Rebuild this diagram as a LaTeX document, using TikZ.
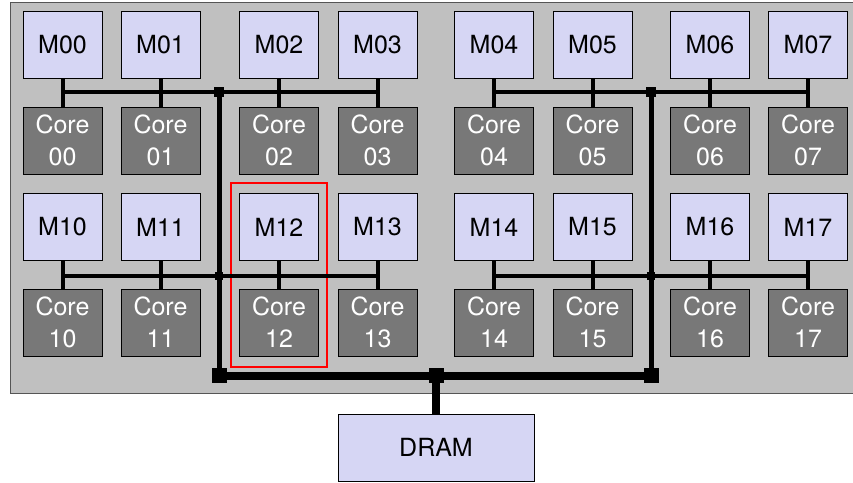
\documentclass[tikz,border=0pt]{standalone}
\usepackage{fontspec}
\setmainfont{TeX Gyre Heros}
\definecolor{memfill}{HTML}{D6D6F4}
\definecolor{corefill}{HTML}{787878}
\definecolor{bgfill}{HTML}{C0C0C0}
\definecolor{bgline}{HTML}{555555}
\begin{document}
\begin{tikzpicture}[x=1pt,y=-1pt,
  boxbase/.style={draw=black, line width=0.8pt, minimum width=79pt, minimum height=67pt, inner sep=0pt, align=center, font=\fontsize{25}{32}\selectfont},
  mem/.style={boxbase, fill=memfill},
  core/.style={boxbase, fill=corefill, text=white},
  stub/.style={line width=4pt},
  rowbus/.style={line width=4pt},
  vbus/.style={line width=5pt},
  mainbus/.style={line width=8pt},
  junc/.style={fill=black, inner sep=0pt, minimum width=#1, minimum height=#1},
  highlight/.style={draw=red, line width=2.4pt}
]
\clip (0,0) rectangle (853,482);
\fill[white] (0,0) rectangle (853,482);
\draw[fill=bgfill, draw=bgline, line width=1pt] (10,2) rectangle (870,393);

\foreach \c/\x in {0/62.5,1/160.5,2/279,3/377.5,4/494,5/592.5,6/710,7/808}{
  \node[mem] (M0\c) at (\x,44.5) {M0\c};
  \node[core] (C0\c) at (\x,140.5) {Core\\0\c};
  \node[mem] (M1\c) at (\x,227) {M1\c};
  \node[core] (C1\c) at (\x,322.5) {Core\\1\c};
}

\node[mem, minimum width=196pt, minimum height=67pt] (DRAM) at (436,447.5) {DRAM};

% highlight
\draw[highlight] (231,183) rectangle (327,367);

% junction coordinates
\coordinate (JL0) at (219,92);
\coordinate (JR0) at (651,92);
\coordinate (JL1) at (219,275.5);
\coordinate (JR1) at (651,275.5);
\coordinate (BL) at (219,375.5);
\coordinate (BR) at (651,375.5);
\coordinate (BD) at (436,375.5);

% stubs
\foreach \r in {0,1}{
  \foreach \c in {0,...,7}{
    \draw[stub] (M\r\c.south) -- (C\r\c.north);
  }
}
% row buses
\draw[rowbus] (M00.south |- JL0) -- (M03.south |- JL0);
\draw[rowbus] (M04.south |- JR0) -- (M07.south |- JR0);
\draw[rowbus] (M10.south |- JL1) -- (M13.south |- JL1);
\draw[rowbus] (M14.south |- JR1) -- (M17.south |- JR1);
% vertical buses
\draw[vbus] (JL0) -- (BL);
\draw[vbus] (JR0) -- (BR);
% main bus
\draw[mainbus] (BL) -- (BR);
\draw[mainbus] (BD) -- (DRAM.north);

% junction squares
\node[junc=10pt] (J1) at (JL0) {};
\node[junc=10pt] (J2) at (JR0) {};
\node[junc=8pt] (J3) at (JL1) {};
\node[junc=8pt] (J4) at (JR1) {};
\node[junc=15pt] (J5) at (BL) {};
\node[junc=15pt] (J6) at (BR) {};
\node[junc=15pt] (J7) at (BD) {};
\end{tikzpicture}
\end{document}
